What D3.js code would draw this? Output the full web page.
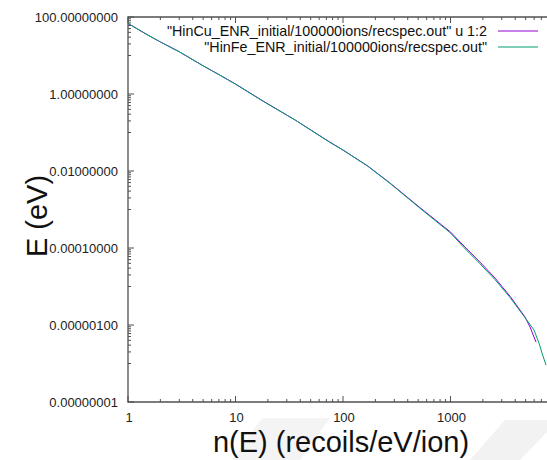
<!DOCTYPE html>
<html>
<head>
<meta charset="utf-8">
<script src="https://cdn.jsdelivr.net/npm/d3@7"></script>
<style>
  body { margin: 0; background: #fff; }
  text { font-family: "Liberation Sans", Arial, sans-serif; }
</style>
</head>
<body>
<div id="chart"></div>
<script>
// recoil spectra (x = n(E), y = E)
const cuX = [1, 1.5, 2, 3, 5, 7, 10, 18, 36, 75, 100, 170, 273, 520, 1000, 1335, 1880, 2600, 3575, 4930, 5490, 6245];
const cuY = [68, 35, 22.5, 12.5, 5.4, 3.2, 1.82, 0.66, 0.21, 0.057, 0.035, 0.0135, 0.0049, 0.00112, 2.6e-4, 1.12e-4, 4.3e-5, 1.65e-5, 5.6e-6, 1.62e-6, 8.9e-7, 3.6e-7];
const feX = [1, 1.5, 2, 3, 5, 7, 10, 18, 36, 75, 100, 170, 273, 520, 1000, 1335, 1880, 2600, 3575, 4930, 5985, 6650, 7100, 7730];
const feY = [68, 35, 22.5, 12.5, 5.4, 3.2, 1.8, 0.65, 0.21, 0.056, 0.035, 0.0133, 0.0048, 0.00108, 2.45e-4, 1.03e-4, 3.9e-5, 1.5e-5, 5.2e-6, 1.55e-6, 7.4e-7, 3.4e-7, 1.87e-7, 9.1e-8];

const seriesNames = ['"HinCu_ENR_initial/100000ions/recspec.out" u 1:2', '"HinFe_ENR_initial/100000ions/recspec.out"'];
const seriesColors = ["#9400d3", "#009e73"];

const xTicks = [1, 10, 100, 1000];
const yTicks = [1e-8, 1e-6, 1e-4, 1e-2, 1, 100];

const width = 547, height = 460;
const pLeft = 128, pRight = 547, pTop = 17, pBottom = 402;

const svg = d3.select("#chart").append("svg")
  .attr("width", width)
  .attr("height", height);

// faint watermark shapes at the bottom
svg.append("path")
  .attr("d", "M232,460 L262,418 L330,418 L300,460 Z")
  .attr("fill", "#f4f4f4");
svg.append("path")
  .attr("d", "M470,460 L505,420 L547,420 L547,432 L520,460 Z")
  .attr("fill", "#f2f2f2");

const x = d3.scaleLog().domain([1, 7900]).range([pLeft, pRight]);
const y = d3.scaleLog().domain([1e-8, 100]).range([pBottom, pTop]);

// minor ticks
const xMinor = [];
for (let d = 1; d <= 1000; d *= 10) {
  for (let k = 2; k <= 9; k++) if (d * k < 7900) xMinor.push(d * k);
}
const yMinor = [];
yTicks.slice(0, -1).forEach(m => {
  for (let k = 1; k <= 9; k++) yMinor.push(m * 10 * k);
});

const axisColor = "#505050";
const g = svg.append("g");

g.selectAll("line.xmaj").data(xTicks).enter().append("line")
  .attr("x1", d => x(d)).attr("x2", d => x(d))
  .attr("y1", pBottom).attr("y2", pBottom - 6)
  .attr("stroke", axisColor);
g.selectAll("line.xmajt").data(xTicks).enter().append("line")
  .attr("x1", d => x(d)).attr("x2", d => x(d))
  .attr("y1", pTop).attr("y2", pTop + 6)
  .attr("stroke", axisColor);
g.selectAll("line.xmin").data(xMinor).enter().append("line")
  .attr("x1", d => x(d)).attr("x2", d => x(d))
  .attr("y1", pBottom).attr("y2", pBottom - 3)
  .attr("stroke", axisColor);
g.selectAll("line.xmint").data(xMinor).enter().append("line")
  .attr("x1", d => x(d)).attr("x2", d => x(d))
  .attr("y1", pTop).attr("y2", pTop + 3)
  .attr("stroke", axisColor);
g.selectAll("line.ymaj").data(yTicks).enter().append("line")
  .attr("x1", pLeft).attr("x2", pLeft + 6)
  .attr("y1", d => y(d)).attr("y2", d => y(d))
  .attr("stroke", axisColor);
g.selectAll("line.ymin").data(yMinor).enter().append("line")
  .attr("x1", pLeft).attr("x2", pLeft + 3)
  .attr("y1", d => y(d)).attr("y2", d => y(d))
  .attr("stroke", axisColor);

// border (left, bottom, top)
g.append("path")
  .attr("d", `M${pRight},${pTop} L${pLeft},${pTop} L${pLeft},${pBottom} L${pRight},${pBottom}`)
  .attr("fill", "none")
  .attr("stroke", axisColor)
  .attr("stroke-width", 1.3);

// tick labels
const fmt = d3.format(".8f");
svg.selectAll("text.ylab").data(yTicks).enter().append("text")
  .attr("x", pLeft - 10)
  .attr("y", d => y(d))
  .attr("dy", "0.35em")
  .attr("text-anchor", "end")
  .attr("font-size", 13)
  .attr("fill", "#222")
  .text(d => fmt(d));
svg.selectAll("text.xlab").data(xTicks).enter().append("text")
  .attr("x", d => x(d) + 1)
  .attr("y", pBottom + 20)
  .attr("text-anchor", "middle")
  .attr("font-size", 13)
  .attr("fill", "#222")
  .text(d => d);

// axis titles
svg.append("text")
  .attr("x", 341)
  .attr("y", 452)
  .attr("text-anchor", "middle")
  .attr("font-size", 29)
  .attr("fill", "#111")
  .text("n(E) (recoils/eV/ion)");
svg.append("text")
  .attr("transform", "translate(47,216) rotate(-90)")
  .attr("text-anchor", "middle")
  .attr("font-size", 29)
  .attr("fill", "#111")
  .text("E (eV)");

// curves
const line = d3.line().x(d => x(d[0])).y(d => y(d[1]));
const series = [d3.zip(cuX, cuY), d3.zip(feX, feY)];
svg.append("defs").append("clipPath").attr("id", "clip")
  .append("rect").attr("x", pLeft).attr("y", pTop).attr("width", pRight - pLeft).attr("height", pBottom - pTop);
svg.append("g").attr("clip-path", "url(#clip)")
  .selectAll("path.curve").data(series).enter().append("path")
  .attr("d", line)
  .attr("fill", "none")
  .attr("stroke", (d, i) => seriesColors[i])
  .attr("stroke-width", 1);

// legend
const legend = svg.selectAll("g.legend").data(seriesNames).enter().append("g")
  .attr("transform", (d, i) => `translate(0,${31 + i * 16})`);
legend.append("text")
  .attr("x", 487)
  .attr("dy", "0.35em")
  .attr("text-anchor", "end")
  .attr("font-size", 14.3)
  .attr("fill", "#111")
  .text(d => d);
legend.append("line")
  .attr("x1", 498).attr("x2", 538)
  .attr("stroke", (d, i) => seriesColors[i])
  .attr("stroke-width", 1);
</script>
</body>
</html>
